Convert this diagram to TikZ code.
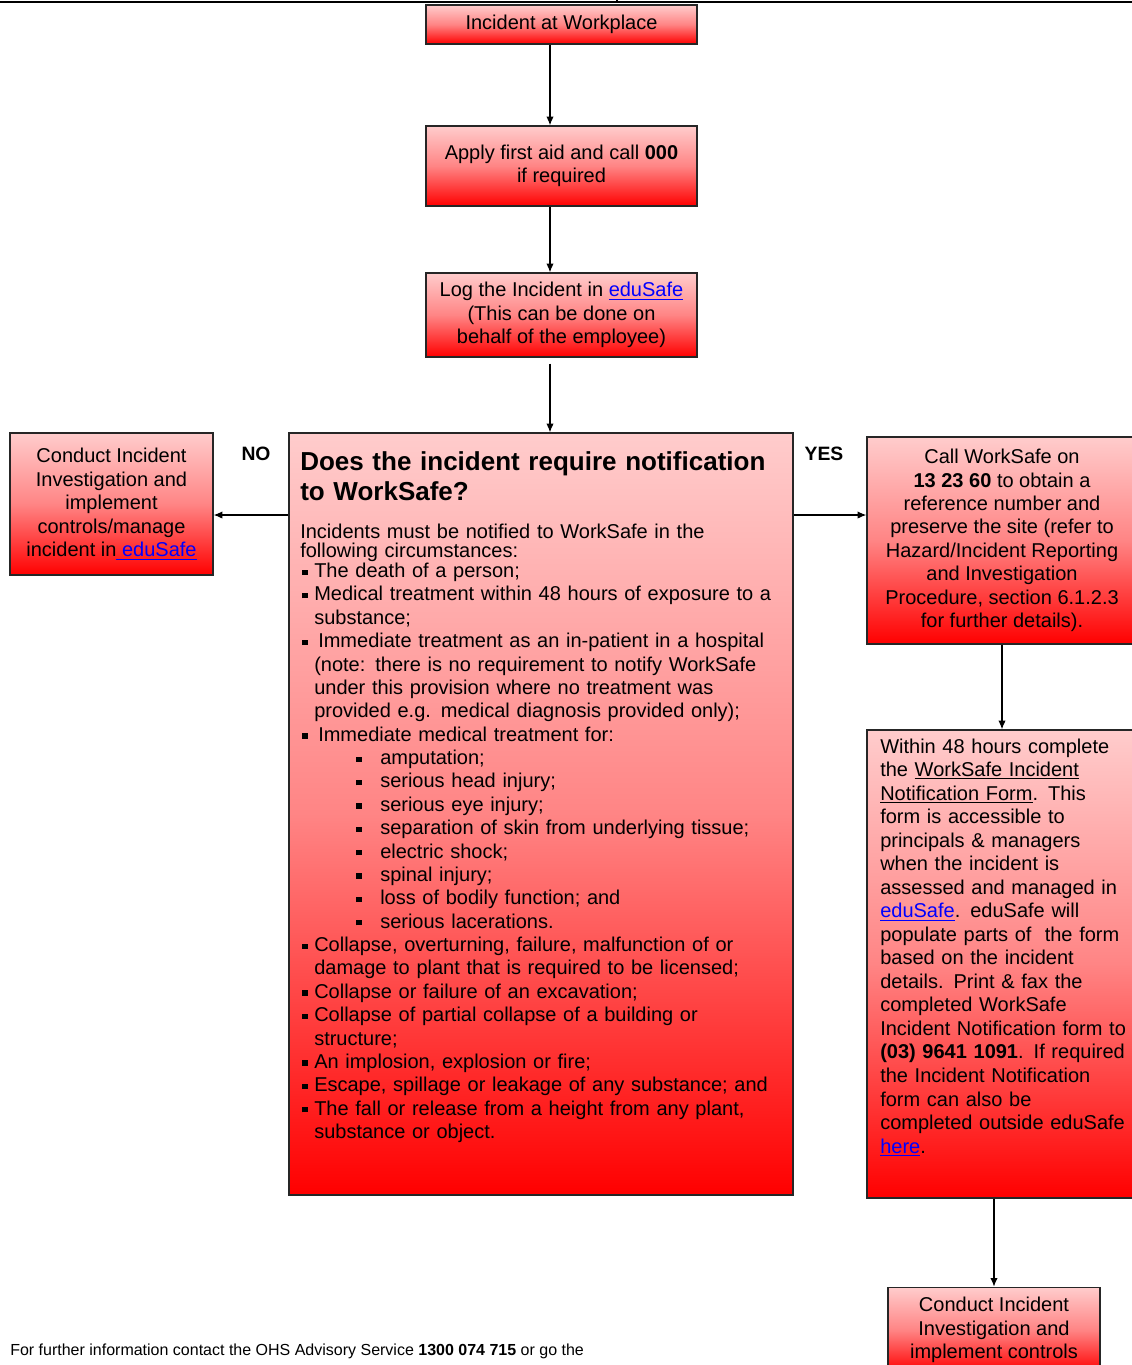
\documentclass[tikz,border=0pt]{standalone}
\usepackage{fontspec}
\setmainfont{Liberation Sans}
\usetikzlibrary{arrows.meta}
\newcommand{\linktext}[1]{\textcolor{blue}{\underline{#1}}}
\newcommand{\bul}{\makebox[10.5pt][l]{\hspace{1.5pt}\rule[2pt]{4pt}{4pt}}}
\newcommand{\cont}{\hspace*{10.5pt}}
\newcommand{\subbul}{\hspace*{42pt}\makebox[18pt][l]{\rule[2pt]{4pt}{4pt}}}
\tikzset{
	redbox/.style={draw=black!85, line width=1pt, top color=red!20, bottom color=red, middle color=red!48, inner sep=0pt},
	boxtext/.style={font=\fontsize{15}{17.6}\selectfont, align=center},
	flow/.style={-{Latex[length=6.5pt,width=5.5pt]}, line width=0.9pt},
	answer/.style={font=\fontsize{14.5}{16}\selectfont\bfseries}
}
\begin{document}
\begin{tikzpicture}[x=0.75pt,y=-0.75pt]
	\useasboundingbox (0,0) rectangle (1132,1365);
	\draw[line width=1.2pt] (0,2) -- (1132,2);
	\draw[line width=0.8pt] (617,0) -- (617,2);
	\coordinate (spine) at (550,0);
	\coordinate (branch) at (0,515);

	\node[redbox, boxtext, minimum width=203.25pt, minimum height=29.25pt] (start) at (561.5,24.5) {Incident at Workplace};
	\node[redbox, boxtext, minimum width=203.25pt, minimum height=60pt] (firstaid) at (561.5,166) {Apply first aid and call \textbf{000}\\if required};
	\node[redbox, boxtext, minimum width=203.25pt, minimum height=63pt] (logit) at (561.5,315) {Log the Incident in \linktext{eduSafe}\\(This can be done on\\behalf of the employee)};
	\node[redbox, boxtext, minimum width=152.25pt, minimum height=106.5pt] (noinvest) at (111.5,504) {Conduct Incident\\Investigation and\\implement\\controls/manage\\incident in\linktext{\ eduSafe}};
	\node[redbox, boxtext, minimum width=202.5pt, minimum height=155.25pt] (callsafe) at (1002,540.5) {Call WorkSafe on\\\textbf{13 23 60} to obtain a\\reference number and\\preserve the site (refer to\\Hazard/Incident Reporting\\and Investigation\\Procedure, section 6.1.2.3\\for further details).};
	\node[redbox, minimum width=202.5pt, minimum height=351pt] (notifyform) at (1002,964) {};
	\node[redbox, boxtext, minimum width=159pt, minimum height=64pt] (yesinvest) at (994,1330) {Conduct Incident\\Investigation and\\implement controls};
	\node[redbox, minimum width=378pt, minimum height=571.5pt] (ask) at (541,814) {};

	\node[anchor=base west, inner sep=0pt, text width=360pt, align=left, font=\fontsize{19.5}{22.5}\selectfont\bfseries] (asktitle) at (300,470) {Does the incident require notification\\to WorkSafe?};
	\node[anchor=base west, inner sep=0pt, text width=360pt, align=left, font=\fontsize{15}{17.53}\selectfont] (asklist) at (300,538) {%
		Incidents must be notified to WorkSafe in the\\[-2.6pt]
		following circumstances:\\[-2.8pt]
		\bul The death of a person;\\
		\bul Medical treatment within 48 hours of exposure to a\\
		\cont substance;\\
		\bul\hspace{3pt}Immediate treatment as an in-patient in a hospital\\
		\cont (note: there is no requirement to notify WorkSafe\\
		\cont under this provision where no treatment was\\
		\cont provided e.g. medical diagnosis provided only);\\
		\bul\hspace{3pt}Immediate medical treatment for:\\
		\subbul amputation;\\
		\subbul serious head injury;\\
		\subbul serious eye injury;\\
		\subbul separation of skin from underlying tissue;\\
		\subbul electric shock;\\
		\subbul spinal injury;\\
		\subbul loss of bodily function; and\\
		\subbul serious lacerations.\\
		\bul Collapse, overturning, failure, malfunction of or\\
		\cont damage to plant that is required to be licensed;\\
		\bul Collapse or failure of an excavation;\\
		\bul Collapse of partial collapse of a building or\\
		\cont structure;\\
		\bul An implosion, explosion or fire;\\
		\bul Escape, spillage or leakage of any substance; and\\
		\bul The fall or release from a height from any plant,\\
		\cont substance or object.};
	\node[anchor=base west, inner sep=0pt, text width=190pt, align=left, font=\fontsize{15}{17.65}\selectfont] (notifytext) at (880,753) {%
		Within 48 hours complete\\
		the \underline{WorkSafe Incident}\\
		\underline{Notification Form}. This\\
		form is accessible to\\
		principals \& managers\\
		when the incident is\\
		assessed and managed in\\
		\linktext{eduSafe}. eduSafe will\\
		populate parts of\ \ the form\\
		based on the incident\\
		details. Print \& fax the\\
		completed WorkSafe\\
		Incident Notification form to\\
		\textbf{(03) 9641 1091}. If required\\
		the Incident Notification\\
		form can also be\\
		completed outside eduSafe\\
		\linktext{here}.};

	\node[answer] (no) at (256,454) {NO};
	\node[answer] (yes) at (824,454) {YES};
	\node[anchor=base west, inner sep=0pt, font=\fontsize{12}{14}\selectfont] (footer) at (10,1355) {For further information contact the OHS Advisory Service \textbf{1300 074 715} or go the};

	\draw[flow] (start.south -| spine) -- (firstaid.north -| spine);
	\draw[flow] (firstaid.south -| spine) -- (logit.north -| spine);
	\draw[flow, shorten <=4.5pt] (logit.south -| spine) -- (ask.north -| spine);
	\draw[flow] (ask.west |- branch) -- (noinvest.east |- branch);
	\draw[flow] (ask.east |- branch) -- (callsafe.west |- branch);
	\draw[flow] (callsafe.south) -- (notifyform.north);
	\draw[flow] (yesinvest.north |- notifyform.south) -- (yesinvest.north);
\end{tikzpicture}
\end{document}
